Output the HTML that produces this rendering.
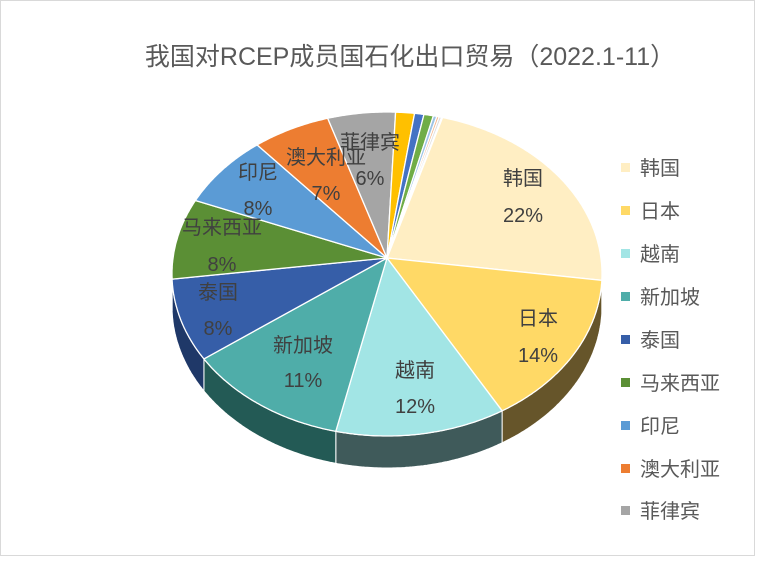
<!DOCTYPE html>
<html><head><meta charset="utf-8"><style>
body{margin:0;background:#fff;width:761px;height:575px;overflow:hidden}
svg text{font-family:"Liberation Sans","Noto Sans CJK SC",sans-serif}
</style></head><body>
<svg id="s" width="761" height="575" xmlns="http://www.w3.org/2000/svg">
<rect x="0.5" y="0.5" width="754" height="555" fill="#fff" stroke="#d9d9d9"/>
<g id="pie"></g>
<text x="410" y="65" text-anchor="middle" font-size="25" fill="#595959">我国对RCEP成员国石化出口贸易（2022.1-11）</text>
<g font-size="20" fill="#404040" text-anchor="middle">
<text x="523" y="185">韩国</text><text x="523" y="222">22%</text>
<text x="538" y="325">日本</text><text x="538" y="362">14%</text>
<text x="415" y="377">越南</text><text x="415" y="413">12%</text>
<text x="303" y="352">新加坡</text><text x="303" y="387">11%</text>
<text x="218" y="299">泰国</text><text x="218" y="335">8%</text>
<text x="222" y="234">马来西亚</text><text x="222" y="271">8%</text>
<text x="258" y="179">印尼</text><text x="258" y="215">8%</text>
<text x="326" y="164">澳大利亚</text><text x="326" y="200">7%</text>
<text x="370" y="149">菲律宾</text><text x="370" y="185">6%</text>
</g>
<g font-size="20" fill="#595959">
<rect x="621" y="163" width="9" height="9" fill="#ffeec3"/><text x="640" y="175">韩国</text>
<rect x="621" y="206" width="9" height="9" fill="#ffd966"/><text x="640" y="218">日本</text>
<rect x="621" y="249" width="9" height="9" fill="#a2e5e5"/><text x="640" y="261">越南</text>
<rect x="621" y="292" width="9" height="9" fill="#4fada9"/><text x="640" y="304">新加坡</text>
<rect x="621" y="335" width="9" height="9" fill="#365ea8"/><text x="640" y="347">泰国</text>
<rect x="621" y="378" width="9" height="9" fill="#5b8f35"/><text x="640" y="390">马来西亚</text>
<rect x="621" y="421" width="9" height="9" fill="#5b9bd5"/><text x="640" y="433">印尼</text>
<rect x="621" y="464" width="9" height="9" fill="#ed7d31"/><text x="640" y="476">澳大利亚</text>
<rect x="621" y="506" width="9" height="9" fill="#a5a5a5"/><text x="640" y="518">菲律宾</text>
</g>
</svg>
<script>
var ax=387,ay=258,ex=387,ey=274,rx=215,ry=162,D=32;
var sl=[[22,"#ffeec3","#6b5a2a"],[14,"#ffd966","#66552a"],[12,"#a2e5e5","#3f5a5a"],[11,"#4fada9","#235a55"],[8,"#365ea8","#1f3868"],[8,"#5b8f35","#35521f"],[8,"#5b9bd5","#35587a"],[7,"#ed7d31","#7a4018"],[6,"#a5a5a5","#555"],[1.6,"#ffc000","#805"],[0.8,"#4472c4","#234"],[0.8,"#70ad47","#353"],[0.3,"#9dc3e6","#567"],[0.2,"#f4b183","#755"],[0.2,"#dbdbdb","#666"]];
var W=[[0,0],[17,-2],[96,-4],[146,1],[190,4],[229,9],[258,10],[287,10],[316,7],[341,3],[360,0]];
function warp(t){t=((t%360)+360)%360;for(var i=0;i<W.length-1;i++){if(t<=W[i+1][0]){var f=(t-W[i][0])/(W[i+1][0]-W[i][0]);return t+W[i][1]+f*(W[i+1][1]-W[i][1]);}}return t;}
function R(f,d){var r=f*Math.PI/180;return [ex+rx*Math.sin(r),ey-ry*Math.cos(r)+(d||0)];}
var a=17,segs=[];
sl.forEach(function(s){var b=a+s[0]*3.6;var f0=warp(a),f1=warp(b);if(f1<f0)f1+=360;segs.push([f0,f1,s]);a=b;});
function pth(p){return 'M'+p.map(function(v){return v[0].toFixed(1)+','+v[1].toFixed(1)}).join('L')+'Z';}
var h='';
segs.forEach(function(q){var a0=Math.max(q[0],90),a1=Math.min(q[1],270);
 if(a1>a0){var p=[],bt=[],i;for(i=a0;i<a1;i+=0.5)p.push(R(i));p.push(R(a1));for(i=a1;i>a0;i-=0.5)bt.push(R(i,D));bt.push(R(a0,D));
 h+='<path d="'+pth(p.concat(bt))+'" fill="'+q[2][2]+'" stroke="#fff" stroke-width="1"/>';}});
segs.forEach(function(q){var p=[[ax,ay]];for(var i=q[0];i<q[1];i+=0.5)p.push(R(i));p.push(R(q[1]));
 h+='<path d="'+pth(p)+'" fill="'+q[2][1]+'" stroke="#fff" stroke-width="1.3"/>';});
document.getElementById('pie').innerHTML=h;
</script>
</body></html>
